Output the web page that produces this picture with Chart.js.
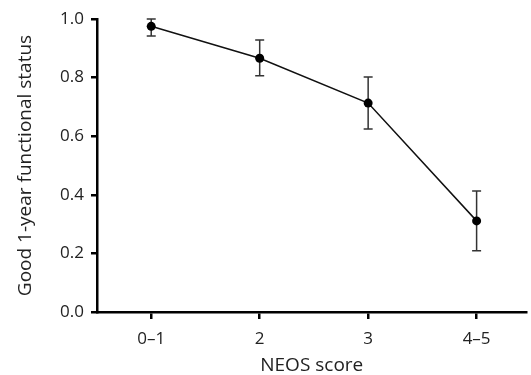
<!DOCTYPE html>
<html>
<head>
<meta charset="utf-8">
<script src="https://cdn.jsdelivr.net/npm/chart.js@4/dist/chart.umd.min.js"></script>
<style>
  html, body { margin: 0; padding: 0; background: #fff; }
  #wrap { width: 531px; height: 375px; }
</style>
</head>
<body>
<div id="wrap"><canvas id="neosChart"></canvas></div>
<script>
// NEOS score groups and proportion with good 1-year functional status
const categories = ["0–1", "2", "3", "4–5"];
const goodStatus = [0.975, 0.866, 0.713, 0.311];
const errLow = [0.942, 0.806, 0.625, 0.209];
const errHigh = [1.0, 0.928, 0.802, 0.413];
const yTicks = [0, 0.2, 0.4, 0.6, 0.8, 1.0];

const textColor = "#222";

// draws the vertical error bars with caps using the chart's own scales
const errorBars = {
  id: "errorBars",
  beforeDatasetsDraw(chart) {
    const ctx = chart.ctx;
    const xs = chart.scales.x;
    const ys = chart.scales.y;
    ctx.save();
    ctx.strokeStyle = "#333";
    ctx.lineWidth = 1.5;
    for (let i = 0; i < categories.length; i++) {
      const x = xs.getPixelForValue(i);
      const yLo = ys.getPixelForValue(errLow[i]);
      const yHi = ys.getPixelForValue(errHigh[i]);
      ctx.beginPath();
      ctx.moveTo(x, yLo);
      ctx.lineTo(x, yHi);
      ctx.moveTo(x - 4.5, yLo);
      ctx.lineTo(x + 4.5, yLo);
      ctx.moveTo(x - 4.5, yHi);
      ctx.lineTo(x + 4.5, yHi);
      ctx.stroke();
    }
    ctx.restore();
  }
};

const ctx = document.getElementById("neosChart").getContext("2d");
const neosChart = new Chart(ctx, {
  type: "line",
  data: {
    datasets: [
      {
        label: "Good 1-year functional status",
        data: goodStatus.map((v, i) => ({ x: i, y: v })),
        borderColor: "#111",
        backgroundColor: "#000",
        borderWidth: 1.5,
        pointRadius: 4.5,
        pointBorderWidth: 0,
        pointBackgroundColor: "#000",
        tension: 0,
      },
    ],
  },
  options: {
    responsive: true,
    maintainAspectRatio: false,
    animation: false,
    layout: { padding: { top: 19, right: 0, left: 0, bottom: 0 } },
    plugins: {
      legend: { display: false },
      tooltip: { enabled: false },
    },
    scales: {
      x: {
        type: "linear",
        min: -0.5,
        max: 3.46,
        afterBuildTicks: (scale) => {
          scale.ticks = categories.map((c, i) => ({ value: i }));
        },
        afterFit: (scale) => { scale.height = 63; },
        ticks: {
          callback: (v) => categories[v],
          color: textColor,
          font: { family: "Open Sans", size: 17 },
          padding: 10,
          maxRotation: 0,
        },
        grid: {
          drawOnChartArea: false,
          drawTicks: true,
          tickLength: 7,
          color: "#000",
          lineWidth: 2.5,
        },
        border: { display: true, color: "#000", width: 2.5 },
        title: {
          display: true,
          text: "NEOS score",
          color: textColor,
          font: { family: "Open Sans", size: 19 },
          padding: { top: 0, bottom: -2 },
        },
      },
      y: {
        min: 0,
        max: 1,
        afterBuildTicks: (scale) => {
          scale.ticks = yTicks.map((v) => ({ value: v }));
        },
        afterFit: (scale) => { scale.width = 97; },
        ticks: {
          callback: (v) => v.toFixed(1),
          color: textColor,
          font: { family: "Open Sans", size: 17 },
          padding: 7,
        },
        grid: {
          drawOnChartArea: false,
          drawTicks: true,
          tickLength: 6,
          color: "#000",
          lineWidth: 2.5,
        },
        border: { display: true, color: "#000", width: 2.5 },
        title: {
          display: true,
          text: "Good 1-year functional status",
          color: textColor,
          font: { family: "Open Sans", size: 19 },
          padding: { top: 14, bottom: 0 },
        },
      },
    },
  },
  plugins: [errorBars],
});
</script>
</body>
</html>
